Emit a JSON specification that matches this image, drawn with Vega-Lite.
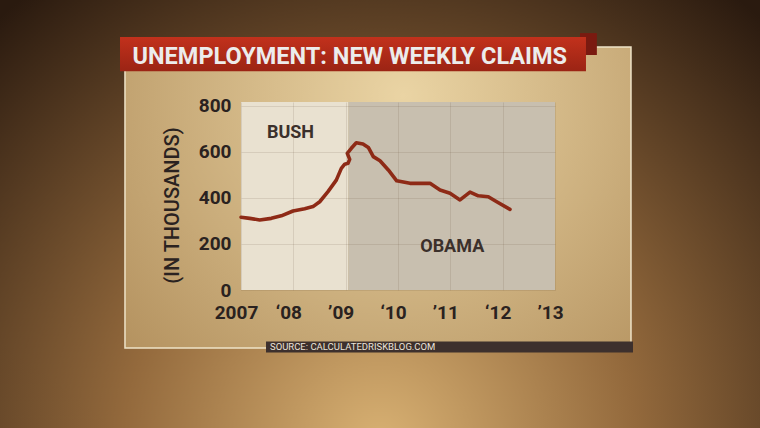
{
  "$schema": "https://vega.github.io/schema/vega-lite/v6.json",
  "width": 314,
  "height": 188,
  "autosize": {"type": "none"},
  "padding": {"left": 241, "top": 102, "right": 205, "bottom": 138},
  "background": "#4a321e",
  "datasets": {
    "claims": [
      {"i": 1, "t": 2007.0, "v": 316},
      {"i": 2, "t": 2007.166, "v": 311},
      {"i": 3, "t": 2007.357, "v": 304},
      {"i": 4, "t": 2007.579, "v": 311},
      {"i": 5, "t": 2007.77, "v": 322},
      {"i": 6, "t": 2007.994, "v": 343},
      {"i": 7, "t": 2008.217, "v": 353},
      {"i": 8, "t": 2008.376, "v": 362},
      {"i": 9, "t": 2008.504, "v": 383},
      {"i": 10, "t": 2008.662, "v": 427},
      {"i": 11, "t": 2008.821, "v": 477},
      {"i": 12, "t": 2008.917, "v": 528},
      {"i": 13, "t": 2008.982, "v": 546},
      {"i": 14, "t": 2009.045, "v": 550},
      {"i": 15, "t": 2009.077, "v": 567},
      {"i": 16, "t": 2009.031, "v": 593},
      {"i": 17, "t": 2009.108, "v": 615},
      {"i": 18, "t": 2009.203, "v": 639},
      {"i": 19, "t": 2009.331, "v": 634},
      {"i": 20, "t": 2009.433, "v": 619},
      {"i": 21, "t": 2009.528, "v": 579},
      {"i": 22, "t": 2009.656, "v": 561},
      {"i": 23, "t": 2009.815, "v": 521},
      {"i": 24, "t": 2009.975, "v": 474},
      {"i": 25, "t": 2010.229, "v": 463},
      {"i": 26, "t": 2010.611, "v": 463},
      {"i": 27, "t": 2010.803, "v": 434},
      {"i": 28, "t": 2010.994, "v": 420},
      {"i": 29, "t": 2011.185, "v": 391},
      {"i": 30, "t": 2011.376, "v": 425},
      {"i": 31, "t": 2011.534, "v": 409},
      {"i": 32, "t": 2011.725, "v": 405},
      {"i": 33, "t": 2011.886, "v": 383},
      {"i": 34, "t": 2012.14, "v": 350}
    ],
    "periods": [
      {"period": "BUSH", "start": 2007, "end": 2009.05},
      {"period": "OBAMA", "start": 2009.05, "end": 2013}
    ]
  },
  "layer": [
    {
      "data": {"values": [{}]},
      "mark": {
        "type": "rect",
        "fill": {
          "gradient": "radial",
          "x1": 0.5, "y1": 0.8, "r1": 0,
          "x2": 0.5, "y2": 0.8, "r2": 0.75,
          "stops": [
            {"offset": 0, "color": "#d8b173"},
            {"offset": 0.45, "color": "#93693c"},
            {"offset": 1, "color": "#2a1a0f"}
          ]
        }
      },
      "encoding": {
        "x": {"datum": 2002.39, "type": "quantitative", "scale": {"domain": [2007, 2013], "nice": false, "zero": false}},
        "x2": {"datum": 2016.92},
        "y": {"datum": 1260, "type": "quantitative", "scale": {"domain": [0, 816], "nice": false, "zero": false}},
        "y2": {"datum": -600}
      }
    },
    {
      "data": {"values": [{}]},
      "mark": {
        "type": "rect",
        "stroke": "#eee3c8",
        "strokeWidth": 1.5,
        "fill": {
          "gradient": "radial",
          "x1": 0.55, "y1": 0.3, "r1": 0,
          "x2": 0.55, "y2": 0.3, "r2": 0.8,
          "stops": [
            {"offset": 0, "color": "#ead4a4"},
            {"offset": 1, "color": "#b08d5a"}
          ]
        }
      },
      "encoding": {
        "x": {"datum": 2004.783, "type": "quantitative", "scale": {"domain": [2007, 2013], "nice": false, "zero": false}},
        "x2": {"datum": 2014.452},
        "y": {"datum": 1055, "type": "quantitative", "scale": {"domain": [0, 816], "nice": false, "zero": false}},
        "y2": {"datum": -252}
      }
    },
    {
      "data": {"values": [{}]},
      "mark": {"type": "rect", "fill": "#3d302d"},
      "encoding": {
        "x": {"datum": 2007.478, "type": "quantitative", "scale": {"domain": [2007, 2013], "nice": false, "zero": false}},
        "x2": {"datum": 2014.49},
        "y": {"datum": -223, "type": "quantitative", "scale": {"domain": [0, 816], "nice": false, "zero": false}},
        "y2": {"datum": -271}
      }
    },
    {
      "data": {"values": [{}]},
      "mark": {"type": "rect", "fill": "#7a1a10"},
      "encoding": {
        "x": {"datum": 2013.478, "type": "quantitative", "scale": {"domain": [2007, 2013], "nice": false, "zero": false}},
        "x2": {"datum": 2013.8},
        "y": {"datum": 1115, "type": "quantitative", "scale": {"domain": [0, 816], "nice": false, "zero": false}},
        "y2": {"datum": 1020}
      }
    },
    {
      "data": {"values": [{}]},
      "mark": {
        "type": "rect",
        "fill": {
          "gradient": "linear",
          "x1": 0, "y1": 0, "x2": 0, "y2": 1,
          "stops": [
            {"offset": 0, "color": "#c2311c"},
            {"offset": 1, "color": "#9b2414"}
          ]
        }
      },
      "encoding": {
        "x": {"datum": 2004.688, "type": "quantitative", "scale": {"domain": [2007, 2013], "nice": false, "zero": false}},
        "x2": {"datum": 2013.592},
        "y": {"datum": 1098, "type": "quantitative", "scale": {"domain": [0, 816], "nice": false, "zero": false}},
        "y2": {"datum": 950}
      }
    },
    {
      "data": {"name": "periods"},
      "mark": {"type": "rect"},
      "encoding": {
        "x": {"field": "start", "type": "quantitative", "scale": {"domain": [2007, 2013], "nice": false, "zero": false}, "title": null},
        "x2": {"field": "end"},
        "y": {"datum": 0, "type": "quantitative", "scale": {"domain": [0, 816], "nice": false, "zero": false}},
        "y2": {"datum": 816},
        "fill": {"field": "period", "type": "nominal", "scale": {"domain": ["BUSH", "OBAMA"], "range": ["#e9e1d0", "#c8bfaf"]}, "legend": null}
      }
    },
    {
      "data": {"name": "claims"},
      "mark": {"type": "line", "stroke": "#8e2a16", "strokeWidth": 3.6, "strokeCap": "round", "strokeJoin": "round"},
      "encoding": {
        "x": {
          "field": "t", "type": "quantitative",
          "scale": {"domain": [2007, 2013], "nice": false, "zero": false},
          "title": null,
          "axis": {
            "zindex": 1,
            "values": [2007, 2008, 2009, 2010, 2011, 2012, 2013],
            "labelExpr": "['2007','‘08','’09','‘10','’11','‘12','’13'][round(datum.value-2007)]"
          }
        },
        "y": {
          "field": "v", "type": "quantitative",
          "scale": {"domain": [0, 816], "nice": false, "zero": false},
          "title": "(IN THOUSANDS)",
          "axis": {
            "zindex": 1,
            "values": [0, 200, 400, 600, 800],
            "titleY": 103
          }
        },
        "order": {"field": "i", "type": "quantitative"}
      }
    },
    {
      "data": {"values": [{}]},
      "mark": {"type": "text", "text": "BUSH", "font": "Roboto", "fontWeight": "bold", "fontSize": 18, "fill": "#3b302b", "align": "center", "baseline": "alphabetic"},
      "encoding": {
        "x": {"datum": 2007.946, "type": "quantitative", "scale": {"domain": [2007, 2013], "nice": false, "zero": false}},
        "y": {"datum": 660, "type": "quantitative", "scale": {"domain": [0, 816], "nice": false, "zero": false}}
      }
    },
    {
      "data": {"values": [{}]},
      "mark": {"type": "text", "text": "OBAMA", "font": "Roboto", "fontWeight": "bold", "fontSize": 18, "fill": "#3b302b", "align": "center", "baseline": "alphabetic"},
      "encoding": {
        "x": {"datum": 2011.036, "type": "quantitative", "scale": {"domain": [2007, 2013], "nice": false, "zero": false}},
        "y": {"datum": 166, "type": "quantitative", "scale": {"domain": [0, 816], "nice": false, "zero": false}}
      }
    },
    {
      "data": {"values": [{}]},
      "mark": {"type": "text", "text": "UNEMPLOYMENT: NEW WEEKLY CLAIMS", "font": "Roboto", "fontWeight": "bold", "fontSize": 23.5, "fill": "#ececec", "align": "left", "baseline": "alphabetic"},
      "encoding": {
        "x": {"datum": 2004.927, "type": "quantitative", "scale": {"domain": [2007, 2013], "nice": false, "zero": false}},
        "y": {"datum": 983, "type": "quantitative", "scale": {"domain": [0, 816], "nice": false, "zero": false}}
      }
    },
    {
      "data": {"values": [{}]},
      "mark": {"type": "text", "text": "SOURCE: CALCULATEDRISKBLOG.COM", "font": "Roboto", "fontSize": 9.5, "fill": "#ebe3da", "align": "left", "baseline": "alphabetic"},
      "encoding": {
        "x": {"datum": 2007.554, "type": "quantitative", "scale": {"domain": [2007, 2013], "nice": false, "zero": false}},
        "y": {"datum": -262, "type": "quantitative", "scale": {"domain": [0, 816], "nice": false, "zero": false}}
      }
    }
  ],
  "config": {
    "view": {"stroke": null},
    "axis": {
      "domain": false,
      "ticks": false,
      "grid": true,
      "gridColor": "#5a4632",
      "gridOpacity": 0.13,
      "gridWidth": 1,
      "labelFont": "Roboto",
      "labelFontWeight": "bold",
      "labelFontSize": 19,
      "labelColor": "#2a2220",
      "labelOverlap": false
    },
    "axisX": {"labelPadding": 13, "labelOffset": -5, "labelFlush": false},
    "axisY": {
      "labelPadding": 10,
      "titleFont": "Roboto",
      "titleFontSize": 20,
      "titleFontWeight": 500,
      "titleColor": "#2a2220",
      "titlePadding": 16
    }
  }
}
